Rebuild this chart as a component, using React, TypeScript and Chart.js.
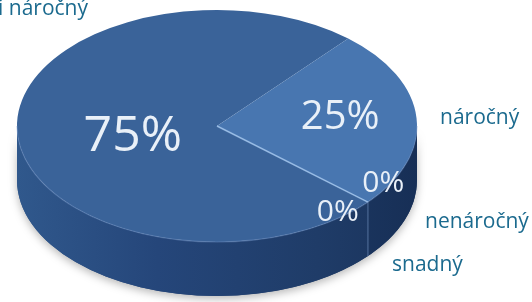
import React, { useEffect, useRef } from "react";
import { Chart, registerables } from "chart.js";
Chart.register(...registerables);

// ---- data ----
const categories = ["velmi náročný", "náročný", "nenáročný", "snadný"];
const values = [75, 25, 0, 0];
const percentLabels = ["75%", "25%", "0%", "0%"];

// ---- styles ----
const sliceColors = ["#3a6399", "#4876b0", "#4876b0", "#3a6399"];
const pctFontSizes = [50, 40, 30, 30];
const pctRadius = [0.43, 0.62, 0.97, 0.96];
const pctAngleOffsetDeg = [-8, -2.4, -10, 10];
const catAnchors: [number, number, CanvasTextAlign][] = [
  [88, 9, "right"],
  [440, 118, "left"],
  [425, 222, "left"],
  [392, 265, "left"],
];
const GEOM = { cx: 217, cy: 126, rx: 200, ry: 116, depth: 54 };

const pie3d = {
  id: "pie3d",
  beforeDatasetsDraw(chart: any) {
    const ctx: CanvasRenderingContext2D = chart.ctx;
    const meta = chart.getDatasetMeta(0);
    const els = meta.data as any[];
    const { x, y, outerRadius } = els[0];
    const { cx, cy, rx, ry, depth } = GEOM;
    const grad = ctx.createLinearGradient(cx - rx, 0, cx + rx, 0);
    grad.addColorStop(0, "#30588c");
    grad.addColorStop(0.35, "#25467a");
    grad.addColorStop(0.75, "#1f3c68");
    grad.addColorStop(1, "#1a335b");
    ctx.save();
    ctx.shadowColor = "rgba(0,0,0,0.28)";
    ctx.shadowBlur = 8;
    ctx.shadowOffsetY = 3;
    ctx.beginPath();
    ctx.ellipse(cx, cy, rx, ry, 0, 0, Math.PI);
    ctx.ellipse(cx, cy + depth, rx, ry, 0, Math.PI, 0, true);
    ctx.closePath();
    ctx.fillStyle = grad;
    ctx.fill();
    ctx.restore();
    els.forEach((el: any, i: number) => {
      const sa = el.startAngle, ea = el.endAngle;
      for (let k = -1; k <= 2; k++) {
        const lo = Math.max(sa, 2 * Math.PI * k);
        const hi = Math.min(ea, 2 * Math.PI * k + Math.PI);
        if (hi > lo) {
          ctx.save();
          ctx.beginPath();
          ctx.ellipse(cx, cy, rx, ry, 0, lo, hi);
          ctx.ellipse(cx, cy + depth, rx, ry, 0, hi, lo, true);
          ctx.closePath();
          ctx.fillStyle = grad;
          ctx.fill();
          if (i === 1) {
            ctx.fillStyle = "rgba(10,25,55,0.12)";
            ctx.fill();
          }
          ctx.restore();
        }
      }
    });
    ctx.save();
    ctx.translate(cx, cy);
    ctx.scale(rx / outerRadius, ry / outerRadius);
    ctx.translate(-x, -y);
  },
  afterDatasetsDraw(chart: any) {
    const ctx: CanvasRenderingContext2D = chart.ctx;
    ctx.restore();
    const els = chart.getDatasetMeta(0).data as any[];
    const { cx, cy, rx, ry, depth } = GEOM;
    ctx.save();
    ctx.beginPath();
    ctx.ellipse(cx, cy, rx, ry, 0, 0, Math.PI);
    ctx.strokeStyle = "rgba(110,145,195,0.45)";
    ctx.lineWidth = 1.2;
    ctx.stroke();
    const a = els[1].endAngle;
    const px = cx + rx * Math.cos(a), py = cy + ry * Math.sin(a);
    ctx.beginPath();
    ctx.moveTo(cx, cy);
    ctx.lineTo(px, py);
    ctx.strokeStyle = "rgba(160,195,235,0.85)";
    ctx.lineWidth = 1.6;
    ctx.stroke();
    if (Math.sin(a) > 0) {
      ctx.beginPath();
      ctx.moveTo(px, py);
      ctx.lineTo(px, py + depth);
      ctx.strokeStyle = "rgba(110,140,185,0.6)";
      ctx.lineWidth = 1.2;
      ctx.stroke();
    }
    ctx.restore();
  },
  afterDraw(chart: any) {
    const ctx: CanvasRenderingContext2D = chart.ctx;
    const els = chart.getDatasetMeta(0).data as any[];
    const { cx, cy, rx, ry } = GEOM;
    ctx.save();
    ctx.textBaseline = "middle";
    els.forEach((el: any, i: number) => {
      const mid = (el.startAngle + el.endAngle) / 2 + (pctAngleOffsetDeg[i] * Math.PI) / 180;
      const r = pctRadius[i];
      const lx = cx + rx * r * Math.cos(mid);
      const ly = cy + ry * r * Math.sin(mid);
      ctx.font = `${pctFontSizes[i]}px "Open Sans", sans-serif`;
      ctx.fillStyle = "#e9f0f8";
      ctx.textAlign = "center";
      ctx.fillText(percentLabels[i], lx, ly);
    });
    ctx.font = `21px "Open Sans", sans-serif`;
    ctx.fillStyle = "#1b6a8e";
    categories.forEach((c, i) => {
      const [ax, ay, al] = catAnchors[i];
      ctx.textAlign = al;
      ctx.fillText(c, ax, ay);
    });
    ctx.restore();
  },
};

export default function App() {
  const ref = useRef<HTMLCanvasElement>(null);
  useEffect(() => {
    document.body.style.margin = "0";
    const chart = new Chart(ref.current!, {
      type: "pie",
      data: {
        labels: categories,
        datasets: [
          {
            data: values,
            backgroundColor: sliceColors,
            borderWidth: 0,
            clip: false as any,
          } as any,
        ],
      },
      options: {
        responsive: false,
        animation: false,
        rotation: 131,
        plugins: { legend: { display: false }, tooltip: { enabled: false } },
        layout: { padding: 0 },
      },
      plugins: [pie3d],
    });
    return () => chart.destroy();
  }, []);
  return <canvas ref={ref} width={532} height={302} style={{ display: "block" }} />;
}
